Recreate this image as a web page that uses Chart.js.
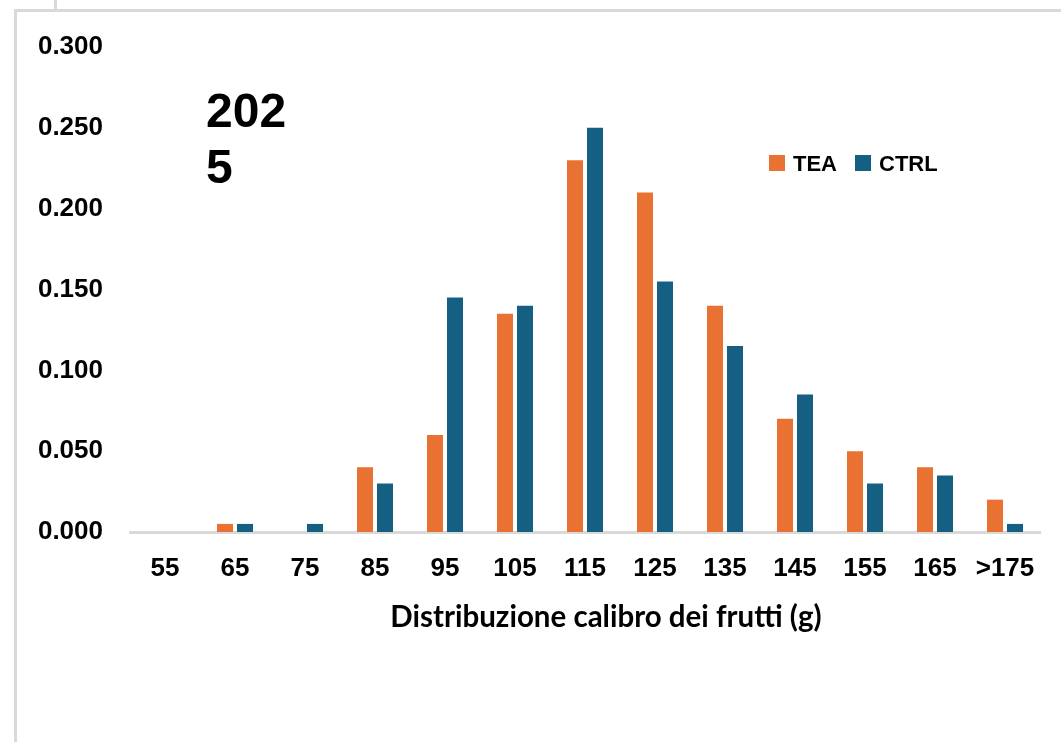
<!DOCTYPE html>
<html>
<head>
<meta charset="utf-8">
<script src="https://cdn.jsdelivr.net/npm/chart.js@4/dist/chart.umd.min.js"></script>
<style>
  html, body { margin: 0; padding: 0; background: #ffffff; }
  body { width: 1061px; height: 742px; position: relative; overflow: hidden; }
  .rule { position: absolute; background: #d9d9d9; }
  #wrap { position: absolute; left: 0; top: 0; width: 1061px; height: 742px; }
</style>
</head>
<body>
<div class="rule" style="left:54px; top:0; width:3px; height:9px;"></div>
<div class="rule" style="left:14px; top:9px; width:1047px; height:3px;"></div>
<div class="rule" style="left:14px; top:9px; width:3px; height:733px;"></div>
<div id="wrap"><canvas id="chart" width="1061" height="742"></canvas></div>
<script>
// Fruit size classes (g)
const categories = ['55', '65', '75', '85', '95', '105', '115', '125', '135', '145', '155', '165', '>175'];
// Share of fruits per size class
const teaValues  = [0, 0.005, 0, 0.040, 0.060, 0.135, 0.230, 0.210, 0.140, 0.070, 0.050, 0.040, 0.020];
const ctrlValues = [0, 0.005, 0.005, 0.030, 0.145, 0.140, 0.250, 0.155, 0.115, 0.085, 0.030, 0.035, 0.005];
const seriesNames = ['TEA', 'CTRL'];
const yTicks = [0, 0.05, 0.10, 0.15, 0.20, 0.25, 0.30];
const axisTitle = 'Distribuzione calibro dei frutti (g)';
const yearLines = ['202', '5'];

const ORANGE = '#E97132';
const BLUE = '#156082';

// Draws the year tag, the inline legend and the x-axis caption
const annotations = {
  id: 'annotations',
  afterDraw(chart) {
    const ctx = chart.ctx;
    ctx.save();
    ctx.fillStyle = '#000000';
    ctx.textAlign = 'left';
    ctx.textBaseline = 'alphabetic';

    ctx.font = 'bold 48px "Liberation Sans", Arial, sans-serif';
    ctx.fillText(yearLines[0], 206, 127);
    ctx.fillText(yearLines[1], 206, 183);

    const sets = chart.data.datasets;
    const legendItems = [
      { x: 769, ds: sets[0] },
      { x: 855, ds: sets[1] }
    ];
    ctx.font = 'bold 22px "Liberation Sans", Arial, sans-serif';
    legendItems.forEach(it => {
      ctx.fillStyle = it.ds.backgroundColor;
      ctx.fillRect(it.x, 155, 16, 16);
      ctx.fillStyle = '#000000';
      ctx.fillText(it.ds.label, it.x + 24, 171);
    });

    ctx.font = 'bold 29.5px Lato, "Open Sans", sans-serif';
    ctx.textAlign = 'center';
    ctx.fillText(axisTitle, 606, 627);
    ctx.restore();
  }
};

new Chart(document.getElementById('chart'), {
  type: 'bar',
  data: {
    labels: categories,
    datasets: [
      { label: seriesNames[0], data: teaValues, backgroundColor: ORANGE, barPercentage: 0.8, categoryPercentage: 0.5714 },
      { label: seriesNames[1], data: ctrlValues, backgroundColor: BLUE, barPercentage: 0.8, categoryPercentage: 0.5714 }
    ]
  },
  options: {
    responsive: false,
    animation: false,
    events: [],
    layout: { padding: { top: 47, right: 21, bottom: 0, left: 0 } },
    plugins: { legend: { display: false }, tooltip: { enabled: false } },
    scales: {
      x: {
        grid: { display: false, drawTicks: false },
        border: { display: true, color: '#d9d9d9', width: 3 },
        ticks: { color: '#000000', font: { family: '"Liberation Sans", Arial, sans-serif', size: 26, weight: 'bold' }, padding: 21, maxRotation: 0, autoSkip: false },
        afterFit(scale) { scale.height = 210; }
      },
      y: {
        min: 0,
        max: 0.3,
        grid: { display: false, drawTicks: false },
        border: { display: false },
        afterBuildTicks(scale) { scale.ticks = yTicks.map(v => ({ value: v })); },
        ticks: {
          color: '#000000',
          font: { family: '"Liberation Sans", Arial, sans-serif', size: 26, weight: 'bold' },
          padding: 27,
          callback: v => Number(v).toFixed(3)
        },
        afterFit(scale) { scale.width = 130; }
      }
    }
  },
  plugins: [annotations]
});
</script>
</body>
</html>
